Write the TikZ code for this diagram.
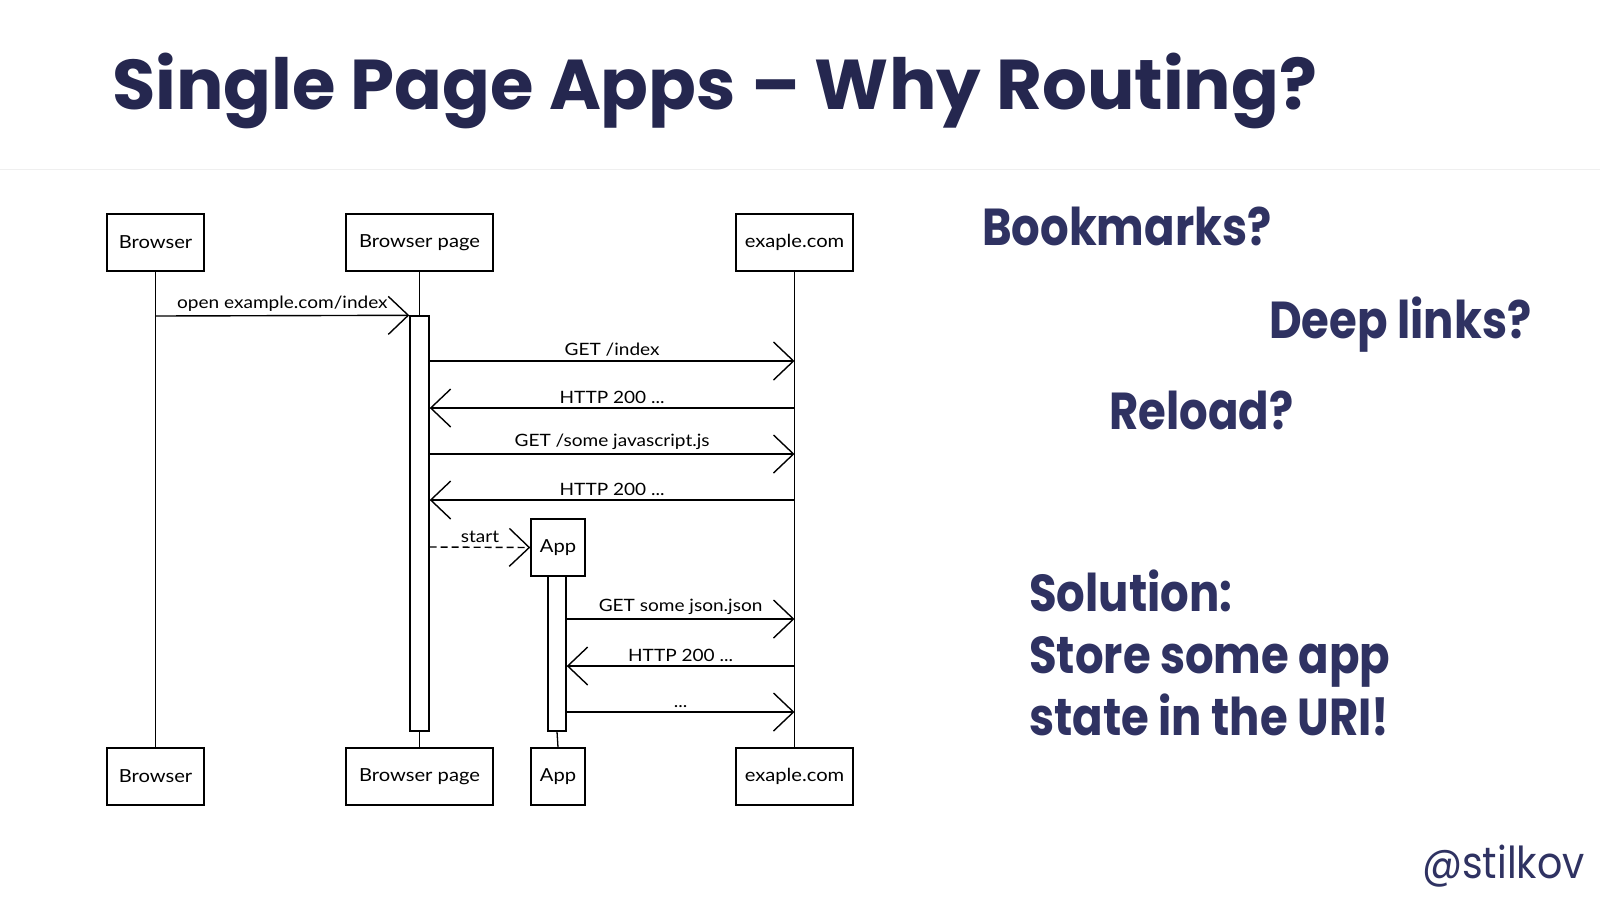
\documentclass[tikz,border=0pt]{standalone}
\usepackage{fontspec}
\setmainfont{Poppins}
\newfontfamily\sidefont{Poppins}[FakeStretch=0.865]
\newfontfamily\tagfont{Poppins}[FakeStretch=0.9]
\newfontfamily\handfont{Lato}[FakeStretch=1.12]
\usetikzlibrary{arrows.meta}
\definecolor{navy}{HTML}{25274F}
\definecolor{navytext}{HTML}{2F3262}
\definecolor{sepgray}{HTML}{EFEFEF}
\begin{document}
\begin{tikzpicture}[x=1pt,y=-1pt,
  actor/.style={draw, line width=1.4pt, fill=white, minimum height=57pt, inner sep=0pt,
                font=\handfont\fontsize{18}{20}\selectfont},
  life/.style={line width=1.3pt},
  bar/.style={draw, fill=white, line width=1.4pt, inner sep=0pt},
  msg/.style={line width=1.4pt, -{Straight Barb[length=20pt,width=38pt,line width=1.4pt]}},
  lbl/.style={font=\handfont\fontsize{17}{19}\selectfont, midway, above=3pt, inner sep=1pt},
  side/.style={anchor=base west, text=navytext, inner sep=0pt, font=\sidefont\bfseries\fontsize{52}{60}\selectfont},
]
\useasboundingbox (0,0) rectangle (1600,900);
\fill[white] (0,0) rectangle (1600,900);

% title and separator
\node[anchor=base west, text=navy, inner sep=0pt, font=\bfseries\fontsize{70.5}{78}\selectfont] (title) at (112,109) {Single Page Apps -- Why Routing?};
\draw[sepgray, line width=1pt] (0,169) -- (1600,169);

% participants
\node[actor, minimum width=97pt]  (b1) at (155.5,242.5) {Browser};
\node[actor, minimum width=147pt] (p1) at (419.5,242.5) {Browser page};
\node[actor, minimum width=117pt] (e1) at (794.5,242.5) {exaple.com};
\node[actor, minimum width=97pt]  (b2) at (155.5,776.5) {Browser};
\node[actor, minimum width=147pt] (p2) at (419.5,776.5) {Browser page};
\node[actor, minimum width=54pt]  (a2) at (558,776.5) {App};
\node[actor, minimum width=117pt] (e2) at (794.5,776.5) {exaple.com};

% activation bars
\node[bar, minimum width=19pt, minimum height=415pt] (pbar) at (419.5,523.5) {};
\node[actor, minimum width=54pt]  (a1) at (558,547.5) {App};
\node[bar, minimum width=18pt, minimum height=155pt] (abar) at (557,653.5) {};

% lifelines
\draw[life] (b1.south) -- (b2.north);
\draw[life] (p1.south) -- (pbar.north);
\draw[life] (pbar.south) -- (p2.north);
\draw[life] (e1.south) -- (e2.north);
\draw[life] (abar.south) -- (a2.north);

% message rows
\coordinate (r0) at (0,316);
\coordinate (r1) at (0,361);
\coordinate (r2) at (0,408);
\coordinate (r3) at (0,454);
\coordinate (r4) at (0,500);
\coordinate (rs) at (0,547);
\coordinate (r5) at (0,619);
\coordinate (r6) at (0,666);
\coordinate (r7) at (0,712);

\draw[msg] (b1 |- r0) -- node[lbl]{open example.com/index} (pbar.north west);
\draw[msg] (pbar.east |- r1) -- node[lbl]{GET /index} (e1 |- r1);
\draw[msg] (e1 |- r2) -- node[lbl]{HTTP 200 ...} (pbar.east |- r2);
\draw[msg] (pbar.east |- r3) -- node[lbl]{GET /some javascript.js} (e1 |- r3);
\draw[msg] (e1 |- r4) -- node[lbl]{HTTP 200 ...} (pbar.east |- r4);
\draw[msg, dash pattern=on 7pt off 4pt] (pbar.east |- rs) -- node[lbl]{start} (a1.west);
\draw[msg] (abar.east |- r5) -- node[lbl]{GET some json.json} (e1 |- r5);
\draw[msg] (e1 |- r6) -- node[lbl]{HTTP 200 ...} (abar.east |- r6);
\draw[msg] (abar.east |- r7) -- node[lbl]{...} (e1 |- r7);

% right-hand text
\node[side] (bm) at (982,245) {Bookmarks?};
\node[side] (dl) at (1269,338) {Deep links?};
\node[side] (rl) at (1109,429) {Reload?};
\node[side] (s1) at (1029,611) {Solution:};
\node[side] (s2) at (1029,673) {Store some app};
\node[side] (s3) at (1029,735) {state in the URI!};
\node[anchor=base east, inner sep=0pt, text=navytext, font=\tagfont\fontsize{44}{50}\selectfont] (tw) at (1585,878) {@stilkov};
\end{tikzpicture}
\end{document}
